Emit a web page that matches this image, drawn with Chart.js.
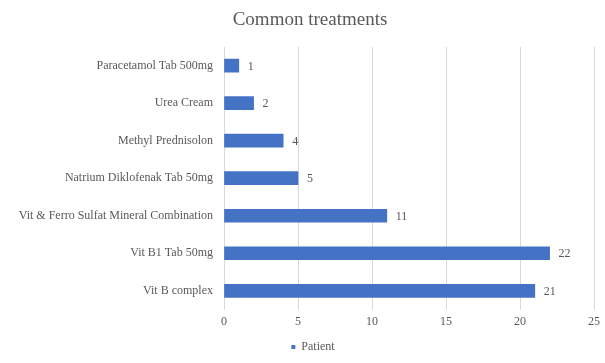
<!DOCTYPE html>
<html>
<head>
<meta charset="utf-8">
<script src="https://cdn.jsdelivr.net/npm/chart.js@4.4.0/dist/chart.umd.min.js"></script>
<style>
  html, body { margin: 0; padding: 0; background: #fff; }
  #wrap { width: 605px; height: 363px; }
</style>
</head>
<body>
<div id="wrap"><canvas id="myChart" width="605" height="363"></canvas></div>
<script>
// Data (top to bottom)
const treatments = [
  'Paracetamol Tab 500mg',
  'Urea Cream',
  'Methyl Prednisolon',
  'Natrium Diklofenak Tab 50mg',
  'Vit & Ferro Sulfat Mineral Combination',
  'Vit B1 Tab 50mg',
  'Vit B complex'
];
const patients = [1, 2, 4, 5, 11, 22, 21];
const xTicks = [0, 5, 10, 15, 20, 25];

const textColor = '#595959';
const serif = '"Liberation Serif", "DejaVu Serif", serif';

// value labels at bar ends
const valueLabels = {
  id: 'valueLabels',
  afterDatasetsDraw(chart) {
    const ctx = chart.ctx;
    const meta = chart.getDatasetMeta(0);
    ctx.save();
    ctx.font = '12px ' + serif;
    ctx.fillStyle = textColor;
    ctx.textAlign = 'left';
    ctx.textBaseline = 'middle';
    meta.data.forEach((bar, i) => {
      ctx.fillText(String(patients[i]), bar.x + 9, bar.y + 1);
    });
    ctx.restore();
  }
};

// title and legend sit a bit right of the canvas centre in the original
const shiftBlocks = {
  id: 'shiftBlocks',
  afterLayout(chart) {
    chart.legend.left += 16;
    chart.legend.right += 16;
    chart.titleBlock.left += 13;
    chart.titleBlock.right += 13;
  }
};

const ctx = document.getElementById('myChart').getContext('2d');
new Chart(ctx, {
  type: 'bar',
  data: {
    labels: treatments,
    datasets: [{
      label: 'Patient',
      data: patients,
      backgroundColor: '#4472C4',
      borderWidth: 0,
      barThickness: 13
    }]
  },
  options: {
    indexAxis: 'y',
    responsive: false,
    animation: false,
    layout: { padding: { left: 0, right: 11, top: 4, bottom: 0 } },
    plugins: {
      title: {
        display: true,
        text: 'Common treatments',
        color: textColor,
        font: { family: serif, size: 19, weight: 'normal' },
        padding: { top: 5, bottom: 15 }
      },
      legend: {
        position: 'bottom',
        labels: {
          color: textColor,
          font: { family: serif, size: 12 },
          usePointStyle: true,
          pointStyle: 'rect',
          boxWidth: 4,
          boxHeight: 4,
          padding: 7
        }
      },
      tooltip: { enabled: false }
    },
    scales: {
      x: {
        min: 0,
        max: 25,
        afterBuildTicks(scale) {
          scale.ticks = xTicks.map(v => ({ value: v }));
        },
        grid: { color: '#d9d9d9', drawTicks: false },
        border: { display: false },
        ticks: {
          color: textColor,
          font: { family: serif, size: 12 },
          padding: 5
        }
      },
      y: {
        afterFit(scale) { scale.width = 224; },
        grid: { display: false },
        border: { display: false },
        ticks: {
          color: textColor,
          font: { family: serif, size: 12 },
          padding: 3
        }
      }
    }
  },
  plugins: [valueLabels, shiftBlocks]
});
</script>
</body>
</html>
